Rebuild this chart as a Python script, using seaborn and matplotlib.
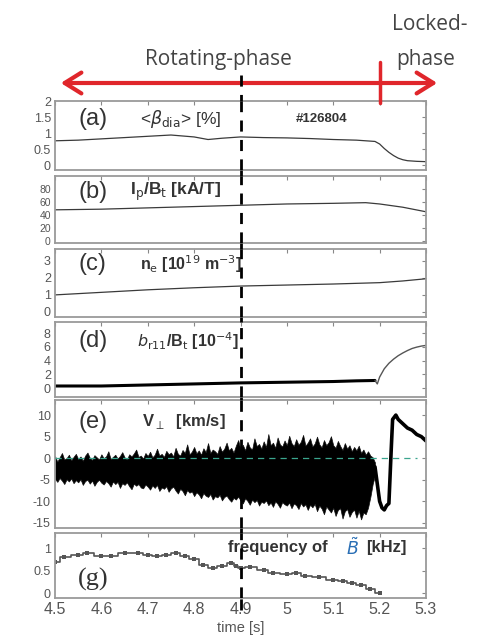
import numpy as np
import pandas as pd
import matplotlib
matplotlib.use("Agg")
import matplotlib.pyplot as plt
import matplotlib.patches as mpatches
import seaborn as sns
from matplotlib.lines import Line2D

sns.set_theme(style="white")
plt.rcParams['font.family'] = ['Liberation Sans', 'DejaVu Sans']
plt.rcParams['mathtext.fontset'] = 'dejavusans'
plt.rcParams['axes.unicode_minus'] = False

# ---------------- data ----------------
x_ticks = [4.5, 4.6, 4.7, 4.8, 4.9, 5.0, 5.1, 5.2, 5.3]
x_tick_labels = ["4.5", "4.6", "4.7", "4.8", "4.9", "5", "5.1", "5.2", "5.3"]
t_marker = 4.9
t_lock = 5.2

# (a) beta_dia [%]
t_a = [4.50, 4.55, 4.60, 4.65, 4.70, 4.75, 4.80, 4.83, 4.86, 4.90, 4.95, 5.00, 5.05, 5.10, 5.15, 5.19,
       5.20, 5.21, 5.22, 5.23, 5.24, 5.25, 5.26, 5.28, 5.30]
beta = [0.76, 0.78, 0.82, 0.86, 0.90, 0.94, 0.88, 0.80, 0.84, 0.88, 0.86, 0.85, 0.83, 0.80, 0.78, 0.74,
        0.66, 0.52, 0.40, 0.30, 0.22, 0.17, 0.14, 0.12, 0.11]

# (b) Ip/Bt [kA/T]
t_b = [4.50, 4.60, 4.70, 4.80, 4.90, 5.00, 5.10, 5.17, 5.20, 5.25, 5.30]
ip_bt = [48, 49, 51, 53, 55, 57, 58, 59, 57, 52, 45]

# (c) ne [1e19 m^-3]
t_c = [4.50, 4.60, 4.70, 4.80, 4.90, 5.00, 5.10, 5.20, 5.25, 5.30]
ne = [1.0, 1.15, 1.3, 1.42, 1.52, 1.58, 1.64, 1.72, 1.82, 1.95]

# (d) b_r11/Bt [1e-4]
t_d1 = [4.50, 4.60, 4.70, 4.80, 4.90, 5.00, 5.10, 5.15, 5.19]
br_rot = [0.3, 0.3, 0.45, 0.6, 0.75, 0.85, 0.95, 1.05, 1.1]
t_d2 = [5.19, 5.195, 5.20, 5.21, 5.22, 5.23, 5.24, 5.25, 5.26, 5.27, 5.28, 5.29, 5.30]
br_lock = [1.1, 0.6, 1.6, 2.8, 3.6, 4.2, 4.7, 5.1, 5.45, 5.75, 5.95, 6.1, 6.2]

# (e) V_perp [km/s] : envelope of the rotating-phase trace
t_e = [4.500, 4.505, 4.510, 4.515, 4.520, 4.525, 4.530, 4.535, 4.540, 4.545,
       4.550, 4.555, 4.560, 4.565, 4.570, 4.575, 4.580, 4.585, 4.590, 4.595,
       4.600, 4.605, 4.610, 4.615, 4.620, 4.625, 4.630, 4.635, 4.640, 4.645,
       4.650, 4.655, 4.660, 4.665, 4.670, 4.675, 4.680, 4.685, 4.690, 4.695,
       4.700, 4.705, 4.710, 4.715, 4.720, 4.725, 4.730, 4.735, 4.740, 4.745,
       4.750, 4.755, 4.760, 4.765, 4.770, 4.775, 4.780, 4.785, 4.790, 4.795,
       4.800, 4.805, 4.810, 4.815, 4.820, 4.825, 4.830, 4.835, 4.840, 4.845,
       4.850, 4.855, 4.860, 4.865, 4.870, 4.875, 4.880, 4.885, 4.890, 4.895,
       4.900, 4.905, 4.910, 4.915, 4.920, 4.925, 4.930, 4.935, 4.940, 4.945,
       4.950, 4.955, 4.960, 4.965, 4.970, 4.975, 4.980, 4.985, 4.990, 4.995,
       5.000, 5.005, 5.010, 5.015, 5.020, 5.025, 5.030, 5.035, 5.040, 5.045,
       5.050, 5.055, 5.060, 5.065, 5.070, 5.075, 5.080, 5.085, 5.090, 5.095,
       5.100, 5.105, 5.110, 5.115, 5.120, 5.125, 5.130, 5.135, 5.140, 5.145,
       5.150, 5.155, 5.160, 5.165, 5.170, 5.175, 5.180, 5.185, 5.190]
v_upper = [0.5, -0.8, 0.2, 1.2, -0.3, 0.0, 0.8, -0.5, 0.3, 1.0,
           -0.2, 0.4, -0.6, 0.6, 1.3, 0.1, -0.4, 0.7, 0.2, -0.3,
           0.9, 0.0, 0.4, 1.6, -0.2, 0.3, 0.8, -0.1, 0.5, 1.4,
           0.2, -0.3, 0.9, 0.4, 1.1, 2.0, 0.3, 0.6, -0.1, 1.2,
           0.5, 1.5, 0.2, 0.8, 2.2, 0.6, 1.0, 0.3, 1.7, 0.9,
           1.3, 0.4, 2.4, 1.0, 0.6, 1.9, 1.2, 3.2, 0.9, 1.5,
           2.6, 1.1, 1.8, 0.8, 2.3, 1.4, 3.5, 1.2, 2.0, 1.6,
           1.0, 2.8, 1.5, 2.2, 3.6, 1.8, 2.4, 1.3, 2.9, 4.2,
           2.0, 3.1, 1.8, 3.8, 2.5, 2.0, 4.6, 2.8, 3.3, 2.2,
           3.9, 2.6, 5.6, 3.0, 3.6, 2.4, 4.8, 3.2, 2.7, 4.1,
           3.0, 5.2, 3.5, 2.8, 4.4, 3.1, 3.8, 5.4, 2.9, 3.6,
           4.6, 2.7, 3.4, 5.0, 3.2, 2.5, 4.2, 3.0, 3.7, 5.1,
           3.0, 2.4, 4.0, 2.8, 1.9, 3.5, 2.2, 3.0, 1.6, 2.6,
           1.8, 2.9, 1.2, 2.0, 0.8, 1.6, 0.6, 0.2, -1.0]
v_lower = [-4.8, -5.5, -4.6, -5.2, -6.0, -4.9, -5.4, -4.7, -5.8, -5.1,
           -5.6, -4.9, -6.2, -5.3, -5.0, -5.9, -5.2, -6.4, -5.5, -5.0,
           -5.7, -6.1, -5.3, -5.8, -6.6, -5.4, -6.0, -5.5, -6.9, -5.8,
           -6.2, -5.6, -6.5, -7.2, -5.9, -6.4, -6.0, -6.8, -7.0, -6.1,
           -6.6, -7.3, -6.3, -6.9, -6.2, -7.6, -6.8, -7.1, -6.5, -7.8,
           -7.0, -6.6, -7.5, -8.2, -7.1, -7.6, -8.6, -7.4, -8.0, -7.7,
           -8.8, -7.9, -8.4, -9.3, -8.1, -8.7, -9.0, -8.3, -9.6, -8.8,
           -9.1, -8.5, -9.8, -9.0, -8.7, -9.5, -10.1, -9.2, -9.6, -8.9,
           -9.8, -10.5, -9.3, -9.9, -10.8, -9.6, -10.2, -9.7, -11.0, -10.1,
           -10.4, -9.8, -10.9, -10.3, -11.3, -10.0, -10.6, -11.5, -10.2, -10.7,
           -11.0, -10.3, -11.6, -10.5, -10.9, -11.8, -10.4, -11.2, -10.7, -12.0,
           -10.8, -11.4, -10.6, -12.3, -11.0, -11.7, -13.0, -11.2, -11.9, -12.6,
           -11.5, -13.4, -12.0, -11.6, -14.0, -12.3, -11.8, -13.6, -12.5, -11.9,
           -13.8, -12.2, -14.2, -12.6, -13.0, -11.5, -9.0, -6.0, -4.0]
t_e2 = [5.19, 5.195, 5.20, 5.205, 5.21, 5.215, 5.22, 5.225, 5.228, 5.235, 5.24, 5.25, 5.26,
        5.27, 5.28, 5.29, 5.30]
v_locked = [-2.0, -6.0, -10.0, -11.5, -12.0, -11.0, -10.5, 2.0, 9.0, 10.0, 9.0, 8.0, 7.0,
            6.5, 5.5, 5.0, 4.0]

# (g) frequency of B~ [kHz]
t_g = [4.50, 4.52, 4.55, 4.57, 4.60, 4.62, 4.65, 4.68, 4.70, 4.72, 4.74, 4.76, 4.78, 4.80,
       4.82, 4.84, 4.86, 4.88, 4.89, 4.90, 4.92, 4.95, 4.97, 5.00, 5.02, 5.04, 5.07, 5.10,
       5.12, 5.14, 5.16, 5.18, 5.20]
freq = [0.70, 0.80, 0.85, 0.90, 0.82, 0.82, 0.90, 0.90, 0.85, 0.82, 0.85, 0.90, 0.82, 0.75,
        0.62, 0.55, 0.60, 0.68, 0.60, 0.55, 0.58, 0.52, 0.45, 0.42, 0.45, 0.38, 0.36, 0.30,
        0.28, 0.22, 0.18, 0.08, 0.00]

# ---------------- figure ----------------
W, H = 487, 642
fig = plt.figure(figsize=(W / 100, H / 100), dpi=100)

left_px, right_px = 55, 426
boxes = {  # top, bottom in pixels
    'a': (101, 170), 'b': (176, 243), 'c': (249, 317),
    'd': (322, 397), 'e': (400, 528), 'g': (533, 598),
}
axes = {}
for k, (tp, bt) in boxes.items():
    axes[k] = fig.add_axes([left_px / W, 1 - bt / H, (right_px - left_px) / W, (bt - tp) / H])

spine_c = '#9a9a9a'
tick_c = '#555555'
txt_c = '#333333'
for k, ax in axes.items():
    ax.set_xlim(4.5, 5.3)
    ax.set_xticks(x_ticks)
    for s in ax.spines.values():
        s.set_color(spine_c)
        s.set_linewidth(1.3)
    ax.tick_params(direction='in', length=3, width=0.8, color='#888888', right=True, top=True,
                   labelsize=9, labelcolor=tick_c, pad=3)
    ax.set_xlabel('')
    ax.set_ylabel('')
    if k != 'g':
        ax.set_xticklabels([])
    ax.axvline(t_marker, color='black', lw=2, ls=(0, (4, 3)), zorder=5)

line_c = '#3a3a3a'
lab_fs = 17
# (a)
ax = axes['a']
sns.lineplot(x=t_a, y=beta, ax=ax, color=line_c, lw=0.9)
ax.set_ylim(-0.15, 2.0)
ax.set_yticks([0, 0.5, 1, 1.5, 2])
ax.set_yticklabels(["0", "0.5", "1", "1.5", "2"])
ax.text(4.551, 1.45, "(a)", fontsize=lab_fs, color=txt_c, va='center')
ax.text(4.683, 1.45, r"<$\beta_{\rm dia}$> [%]", fontsize=12.5, color=txt_c, va='center')
ax.text(5.02, 1.45, "#126804", fontsize=9.5, color=txt_c, va='center', fontweight='bold')

# (b)
ax = axes['b']
sns.lineplot(x=t_b, y=ip_bt, ax=ax, color=line_c, lw=0.9)
ax.set_ylim(-3, 100)
ax.set_yticks([0, 20, 40, 60, 80])
ax.tick_params(axis='y', labelsize=7.5)
ax.text(4.551, 75, "(b)", fontsize=lab_fs, color=txt_c, va='center')
ax.text(4.662, 75, r"I$_{\rm p}$/B$_{\rm t}$ [kA/T]", fontsize=12.5, color=txt_c, va='center',
        fontweight='bold')

# (c)
ax = axes['c']
sns.lineplot(x=t_c, y=ne, ax=ax, color=line_c, lw=0.9)
ax.set_ylim(-0.3, 3.7)
ax.set_yticks([0, 1, 2, 3])
ax.text(4.551, 2.8, "(c)", fontsize=lab_fs, color=txt_c, va='center')
ax.text(4.683, 2.8, r"n$_{\rm e}$ [10$^{19}$ m$^{-3}$]", fontsize=11.5, color=txt_c, va='center',
        fontweight='bold')

# (d)
ax = axes['d']
sns.lineplot(x=t_d1, y=br_rot, ax=ax, color='black', lw=2.2)
sns.lineplot(x=t_d2, y=br_lock, ax=ax, color='#555555', lw=1.0)
ax.set_ylim(-1.3, 9.6)
ax.set_yticks([0, 2, 4, 6, 8])
ax.text(4.551, 6.8, "(d)", fontsize=lab_fs, color=txt_c, va='center')
ax.text(4.677, 6.8, r"$b_{\rm r11}$/B$_{\rm t}$ [10$^{-4}$]", fontsize=11.5, color=txt_c, va='center',
        fontweight='bold')

# (e)
ax = axes['e']
ax.fill_between(t_e, v_lower, v_upper, color='black', lw=0.5, edgecolor='#111111')
sns.lineplot(x=t_e2, y=v_locked, ax=ax, color='black', lw=2.6)
ax.plot([4.5, 5.28], [0, 0], color='#3aa58e', lw=0.9, ls=(0, (5, 4)), zorder=4)
ax.set_ylim(-16.2, 13.5)
ax.set_yticks([-15, -10, -5, 0, 5, 10])
ax.text(4.551, 8.5, "(e)", fontsize=lab_fs, color=txt_c, va='center')
ax.text(4.687, 8.5, r"V$_{\perp}$  [km/s]", fontsize=12, color=txt_c, va='center',
        fontweight='bold')

# (g)
ax = axes['g']
sns.lineplot(x=t_g, y=freq, ax=ax, color='#555555', lw=1.2, drawstyle='steps-mid',
             marker='s', markersize=2.5, markeredgewidth=0)
ax.set_ylim(-0.11, 1.34)
ax.set_yticks([0, 0.5, 1])
ax.set_yticklabels(["0", "0.5", "1"])
ax.set_xticklabels(x_tick_labels)
ax.tick_params(axis='x', labelsize=11.5, pad=3)
ax.set_xlabel("time [s]", fontsize=10.5, color=tick_c, labelpad=3)
ax.text(4.55, 0.3, "(g)", fontsize=19, color=txt_c, va='center', family='Liberation Serif')
ax.text(4.873, 1.02, "frequency of", fontsize=12, color=txt_c, va='center', fontweight='bold')
ax.text(5.127, 1.02, r"$\tilde{B}$", fontsize=12.5, color='#2a6fb5', va='center')
ax.text(5.17, 1.02, "[kHz]", fontsize=12, color=txt_c, va='center', fontweight='bold')

# ---------- annotations across figure ----------
pos = axes['a'].get_position()
xf = pos.x0 + (t_marker - 4.5) / 0.8 * pos.width
xlock = pos.x0 + (t_lock - 4.5) / 0.8 * pos.width
dash = dict(color='black', lw=2, ls=(0, (4, 3)), transform=fig.transFigure)
fig.add_artist(Line2D([xf, xf], [1 - 75 / H, pos.y1], **dash))
for k1, k2 in [('a', 'b'), ('b', 'c'), ('c', 'd'), ('d', 'e'), ('e', 'g')]:
    y_hi = axes[k1].get_position().y0
    y_lo = axes[k2].get_position().y1
    fig.add_artist(Line2D([xf, xf], [y_lo, y_hi], **dash))
fig.add_artist(Line2D([xf, xf], [1 - 610 / H, axes['g'].get_position().y0], **dash))

ay = 1 - 83 / H
fig.patches.append(mpatches.FancyArrowPatch(
    (58 / W, ay), (440 / W, ay), transform=fig.transFigure, arrowstyle='<->,head_length=8,head_width=5',
    color='#e0262b', lw=3, mutation_scale=1.5))
fig.add_artist(Line2D([xlock, xlock], [1 - 62 / H, 1 - 103 / H], color='#e0262b', lw=2.5,
                      transform=fig.transFigure))
big = dict(color='#444444', va='center', family=['Open Sans', 'DejaVu Sans'])
fig.text(218 / W, 1 - 59 / H, "Rotating-phase", fontsize=15, ha='center', **big)
fig.text(392 / W, 1 - 24 / H, "Locked-", fontsize=15, ha='left', **big)
fig.text(396 / W, 1 - 60 / H, "phase", fontsize=15, ha='left', **big)

fig.savefig("out.png", dpi=100)
